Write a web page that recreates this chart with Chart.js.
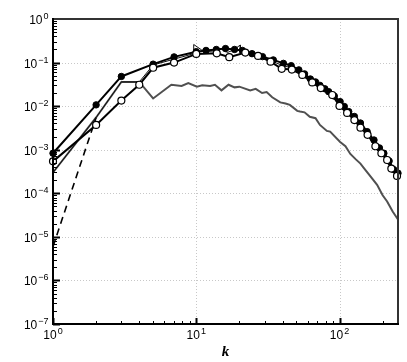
<!DOCTYPE html>
<html>
<head>
<meta charset="utf-8">
<script src="https://cdn.jsdelivr.net/npm/chart.js@4/dist/chart.umd.min.js"></script>
<style>
  html, body { margin: 0; padding: 0; background: #fff; }
  canvas { display: block; }
</style>
</head>
<body>
<canvas id="spectrum" width="407" height="362"></canvas>
<script>
// wavenumber / energy pairs
const kFilled = [1, 2, 3, 5, 7, 10, 11.7, 13.8, 16, 18.5, 21, 24.5, 29, 34.5, 40.6, 46, 52, 57, 62.6, 68, 73, 79, 84, 92, 101, 108, 116, 127, 140, 156, 174, 190, 204, 222, 239, 256];
const eFilled = [8.3e-4, 1.07e-2, 4.8e-2, 9.2e-2, 0.135, 0.178, 0.19, 0.2, 0.21, 0.2, 0.19, 0.16, 0.137, 0.115, 0.096, 0.085, 0.068, 0.055, 0.042, 0.036, 0.03, 0.025, 0.0215, 0.017, 0.0127, 0.0098, 0.0075, 0.0058, 0.0041, 0.0026, 0.00167, 0.0011, 0.00083, 0.00055, 0.00035, 0.00029];

const kOpen = [1, 2, 3, 4, 5, 7, 10, 13.9, 17, 22, 27, 33, 39.5, 46.5, 55, 64.5, 74, 89, 100, 113, 127, 140, 157, 178, 196, 215, 230, 252];
const eOpen = [5.4e-4, 3.7e-3, 1.34e-2, 3.1e-2, 7.6e-2, 0.1, 0.158, 0.163, 0.133, 0.17, 0.142, 0.105, 0.072, 0.069, 0.052, 0.035, 0.026, 0.018, 0.0101, 0.007, 0.0048, 0.0032, 0.0022, 0.0012, 0.00083, 0.00058, 0.00037, 0.00025];

const kThin = [1, 2, 3, 4, 5, 7, 9.6, 9.6, 10.9, 12, 13.5, 15, 16.5, 18.2, 20.3, 20.3, 23, 27, 33, 40, 47, 55, 65, 75, 88, 100, 115, 128, 140, 160, 180, 200, 230, 256];
const eThin = [3e-4, 5.5e-3, 3.6e-2, 3.6e-2, 0.088, 0.12, 0.16, 0.26, 0.195, 0.18, 0.185, 0.21, 0.17, 0.195, 0.253, 0.16, 0.17, 0.145, 0.112, 0.085, 0.075, 0.058, 0.038, 0.028, 0.02, 0.0115, 0.0072, 0.005, 0.0036, 0.002, 0.0013, 0.00075, 0.00038, 0.00026];

const kGray = [1, 2, 3, 4, 5, 6.7, 7.9, 8.8, 10.1, 11, 12.5, 13.5, 15, 16.8, 18.5, 20, 23.8, 26, 28.8, 31, 33.9, 38.6, 42, 45, 50.7, 53, 57, 62, 68, 73, 81.6, 86, 101, 110, 119, 130, 140, 148, 165, 183, 200, 215, 235, 256];
const eGray = [3e-4, 5.5e-3, 3.6e-2, 3.6e-2, 0.015, 0.031, 0.029, 0.034, 0.028, 0.03, 0.029, 0.031, 0.023, 0.031, 0.027, 0.028, 0.023, 0.025, 0.02, 0.021, 0.016, 0.0122, 0.0115, 0.0107, 0.0078, 0.0075, 0.0072, 0.0057, 0.0053, 0.0037, 0.0027, 0.0026, 0.0015, 0.0012, 0.0008, 0.0006, 0.00048, 0.00038, 0.00024, 0.000156, 0.00009, 0.000065, 0.000038, 0.000025];

const kDash = [1, 2];
const eDash = [6e-6, 5.5e-3];

const xTicks = [1, 10, 100];
const yTicks = [1e0, 1e-1, 1e-2, 1e-3, 1e-4, 1e-5, 1e-6, 1e-7];

function pairs(ks, es) {
    return ks.map(function(k, i) { return { x: k, y: es[i] }; });
}

// grid, inward ticks, frame and 10^n labels
const axisDeco = {
    id: 'axisDeco',
    beforeDatasetsDraw: function(chart) {
        const ctx = chart.ctx, a = chart.chartArea;
        const xs = chart.scales.x, ys = chart.scales.y;
        ctx.save();
        ctx.strokeStyle = '#c8c8c8';
        ctx.lineWidth = 1;
        ctx.setLineDash([1, 2]);
        [10, 100].forEach(function(v) {
            const px = Math.round(xs.getPixelForValue(v)) + 0.5;
            ctx.beginPath(); ctx.moveTo(px, a.top); ctx.lineTo(px, a.bottom); ctx.stroke();
        });
        yTicks.slice(1, -1).forEach(function(v) {
            const py = Math.round(ys.getPixelForValue(v)) + 0.5;
            ctx.beginPath(); ctx.moveTo(a.left, py); ctx.lineTo(a.right, py); ctx.stroke();
        });
        ctx.restore();
    },
    afterDatasetsDraw: function(chart) {
        const ctx = chart.ctx, a = chart.chartArea;
        const xs = chart.scales.x, ys = chart.scales.y;
        ctx.save();
        // frame
        ctx.lineWidth = 2;
        ctx.strokeStyle = '#333';
        ctx.beginPath();
        ctx.moveTo(a.left, a.top); ctx.lineTo(a.right, a.top); ctx.lineTo(a.right, a.bottom);
        ctx.stroke();
        ctx.strokeStyle = '#000';
        ctx.beginPath();
        ctx.moveTo(a.left, a.top - 1); ctx.lineTo(a.left, a.bottom); ctx.lineTo(a.right + 1, a.bottom);
        ctx.stroke();

        // ticks
        ctx.lineWidth = 1;
        for (let d = 0; d < 3; d++) {
            for (let m = 1; m < 10; m++) {
                const v = m * Math.pow(10, d);
                if (v > 256) break;
                const px = Math.round(xs.getPixelForValue(v)) + 0.5;
                const len = m === 1 ? 6 : 3;
                ctx.lineWidth = m === 1 ? 2 : 1;
                ctx.beginPath(); ctx.moveTo(px, a.bottom); ctx.lineTo(px, a.bottom - len); ctx.stroke();
            }
        }
        for (let e = -7; e < 0; e++) {
            for (let m = 1; m < 10; m++) {
                const v = m * Math.pow(10, e);
                const py = Math.round(ys.getPixelForValue(v)) + 0.5;
                const len = m === 1 ? 7 : 4;
                ctx.lineWidth = m === 1 ? 2 : 1;
                ctx.beginPath(); ctx.moveTo(a.left, py); ctx.lineTo(a.left + len, py); ctx.stroke();
            }
        }

        // labels
        ctx.fillStyle = '#000';
        ctx.textBaseline = 'alphabetic';
        const baseFont = '12px "Liberation Sans", Arial, sans-serif';
        const expFont = '9px "Liberation Sans", Arial, sans-serif';
        function powLabel(exp, x, y, align) {
            const es = String(exp).replace('-', '\u2212');
            ctx.font = baseFont;
            const wb = ctx.measureText('10').width;
            ctx.font = expFont;
            const we = ctx.measureText(es).width;
            let x0 = align === 'right' ? x - wb - we - 1 : x - (wb + we + 1) / 2;
            ctx.textAlign = 'left';
            ctx.font = baseFont;
            ctx.fillText('10', x0, y);
            ctx.font = expFont;
            ctx.fillText(es, x0 + wb + 1, y - 5);
        }
        yTicks.forEach(function(v) {
            const py = ys.getPixelForValue(v);
            powLabel(Math.round(Math.log10(v)), 48.5, py + 5, 'right');
        });
        xTicks.forEach(function(v) {
            const px = xs.getPixelForValue(v);
            powLabel(Math.round(Math.log10(v)), px, 339, 'center');
        });

        ctx.font = 'italic bold 15px "Liberation Serif", "Times New Roman", serif';
        ctx.textAlign = 'center';
        ctx.fillText('k', (a.left + a.right) / 2, 356);
        ctx.restore();
    }
};

const ctx = document.getElementById('spectrum').getContext('2d');
new Chart(ctx, {
    type: 'line',
    data: {
        datasets: [
            {
                label: 'open',
                data: pairs(kOpen, eOpen),
                borderColor: '#000',
                borderWidth: 2,
                pointRadius: 3.5,
                pointBackgroundColor: '#fff',
                pointBorderColor: '#000',
                pointBorderWidth: 1.2,
                clip: false,
                order: 0
            },
            {
                label: 'filled',
                data: pairs(kFilled, eFilled),
                borderColor: '#000',
                borderWidth: 2,
                pointRadius: 3.2,
                pointBackgroundColor: '#000',
                pointBorderColor: '#000',
                pointBorderWidth: 1,
                clip: false,
                order: 1
            },
            {
                label: 'thin',
                data: pairs(kThin, eThin),
                borderColor: '#111',
                borderWidth: 1,
                pointRadius: 0,
                order: 2
            },
            {
                label: 'dashed',
                data: pairs(kDash, eDash),
                borderColor: '#000',
                borderWidth: 1.6,
                borderDash: [7, 5],
                pointRadius: 0,
                order: 3
            },
            {
                label: 'gray',
                data: pairs(kGray, eGray),
                borderColor: '#505050',
                borderWidth: 2,
                pointRadius: 0,
                order: 4
            }
        ]
    },
    options: {
        responsive: false,
        devicePixelRatio: 1,
        animation: false,
        layout: { padding: { left: 53, right: 9, top: 19, bottom: 38 } },
        plugins: {
            legend: { display: false },
            tooltip: { enabled: false }
        },
        elements: { line: { tension: 0 } },
        scales: {
            x: { type: 'logarithmic', min: 1, max: 256, display: false },
            y: { type: 'logarithmic', min: 1e-7, max: 1, display: false }
        }
    },
    plugins: [axisDeco]
});
</script>
</body>
</html>
